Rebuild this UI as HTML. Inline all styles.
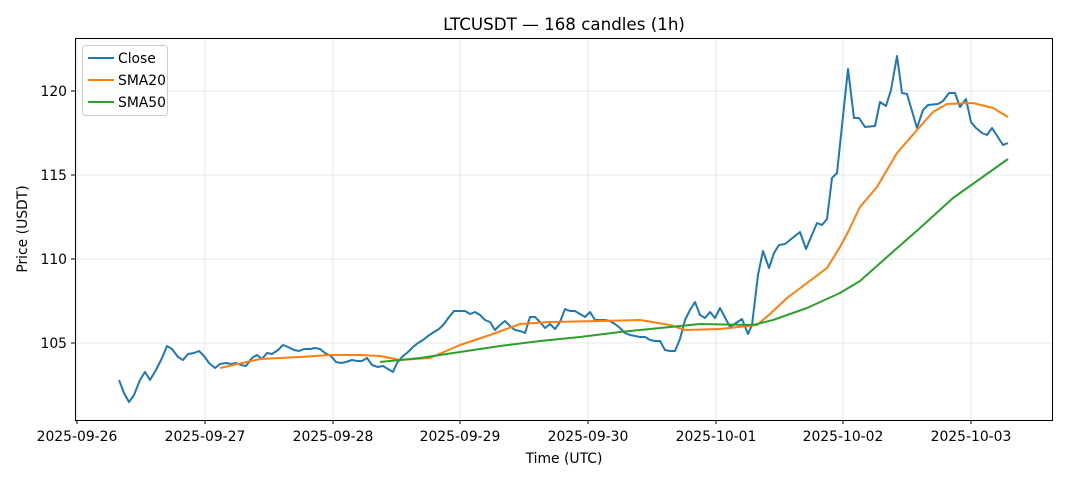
<!DOCTYPE html>
<html><head><meta charset="utf-8"><style>body{margin:0;background:#fff}svg{display:block;font-family:"DejaVu Sans","Liberation Sans",sans-serif}</style></head><body>
<svg width="1068" height="481" viewBox="0 0 1068 481" xmlns="http://www.w3.org/2000/svg">
<rect width="1068" height="481" fill="#fff"/>
<g stroke="#b0c4de" stroke-opacity="0.35" stroke-width="1">
<line x1="77" y1="38" x2="77" y2="420"/><line x1="205" y1="38" x2="205" y2="420"/><line x1="333" y1="38" x2="333" y2="420"/><line x1="460" y1="38" x2="460" y2="420"/><line x1="588" y1="38" x2="588" y2="420"/><line x1="716" y1="38" x2="716" y2="420"/><line x1="843" y1="38" x2="843" y2="420"/><line x1="971" y1="38" x2="971" y2="420"/>
<line x1="75" y1="343" x2="1052" y2="343"/><line x1="75" y1="259" x2="1052" y2="259"/><line x1="75" y1="175" x2="1052" y2="175"/><line x1="75" y1="91" x2="1052" y2="91"/>
</g>
<g fill="none" stroke-width="2" stroke-linejoin="round">
<polyline stroke="#1f77b4" points="119,380 124,393 129,402 134,395 140,380 145,372 150,380 156,370 162,358 167,346 172,349 178,357 183,360 188,354 194,353 199,351 204,356 209,363 215,368 220,364 226,363 231,364 236,363 241,365 246,366 252,358 257,355 262,359 267,353 272,354 278,350 283,345 288,347 294,350 299,351 304,349 310,349 315,348 320,349 325,353 331,356 336,362 341,363 346,362 352,360 357,361 362,361 367,358 372,365 378,367 383,366 388,369 393,372 397,363 402,357 408,352 413,347 418,343 423,340 428,336 434,332 439,329 444,324 449,317 454,311 460,311 465,311 470,314 475,312 480,315 485,320 490,322 495,330 500,325 505,321 510,326 515,330 520,331 525,333 530,317 535,317 540,322 545,328 550,324 555,329 560,322 565,309 570,311 575,311 580,314 585,317 590,312 595,320 600,320 605,320 610,321 615,324 620,328 625,333 630,335 635,336 640,337 645,337 650,340 655,341 660,341 665,350 670,351 675,351 680,339 685,320 690,310 695,302 700,315 705,318 710,312 715,318 720,308 730,327 742,319 748,334 752,325 758,275 763,251 769,268 774,253 779,245 785,244 790,240 800,232 806,249 817,223 822,225 827,219 832,178 837,173 848,69 854,118 859,118 865,127 875,126 880,102 886,106 891,90 897,56 902,93 907,94 917,128 923,110 928,105 938,104 943,101 949,93 955,93 960,107 966,99 971,122 976,128 982,133 987,135 992,128 1003,145 1008,143"/>
<polyline stroke="#ff7f0e" points="220,368 260,359 300,357 330,355 360,355 380,356 400,360 430,358 460,345 490,335 520,324 550,322 600,321 640,320 670,325 685,330 720,329 757,325 770,314 787,298 807,283 827,268 840,247 848,232 860,207 877,187 897,153 917,130 933,112 947,104 973,103 993,108 1008,117"/>
<polyline stroke="#2ca02c" points="380,362 420,358 460,352 500,346 540,341 580,337 620,332 660,328 700,324 753,325 773,320 807,308 840,293 860,281 887,257 920,228 953,198 1008,159"/>
</g>
<rect x="75.5" y="38.5" width="977" height="382" fill="none" stroke="#000" stroke-width="1"/>
<g stroke="#000"><line x1="77" y1="420" x2="77" y2="424"/><line x1="205" y1="420" x2="205" y2="424"/><line x1="333" y1="420" x2="333" y2="424"/><line x1="460" y1="420" x2="460" y2="424"/><line x1="588" y1="420" x2="588" y2="424"/><line x1="716" y1="420" x2="716" y2="424"/><line x1="843" y1="420" x2="843" y2="424"/><line x1="971" y1="420" x2="971" y2="424"/>
<line x1="71" y1="343" x2="75" y2="343"/><line x1="71" y1="259" x2="75" y2="259"/><line x1="71" y1="175" x2="75" y2="175"/><line x1="71" y1="91" x2="75" y2="91"/></g>
<g font-size="13.9" fill="#000" text-anchor="middle">
<text x="77" y="441">2025-09-26</text><text x="205" y="441">2025-09-27</text><text x="333" y="441">2025-09-28</text><text x="460" y="441">2025-09-29</text><text x="588" y="441">2025-09-30</text><text x="716" y="441">2025-10-01</text><text x="843" y="441">2025-10-02</text><text x="971" y="441">2025-10-03</text>
<text x="564" y="463">Time (UTC)</text>
<text x="564" y="30" font-size="16.7">LTCUSDT — 168 candles (1h)</text>
<text transform="translate(27,229) rotate(-90)">Price (USDT)</text>
</g>
<g font-size="13.9" text-anchor="end"><text x="67" y="348">105</text><text x="67" y="264">110</text><text x="67" y="180">115</text><text x="67" y="96">120</text></g>
<rect x="82.5" y="45.5" width="85" height="70" rx="3" fill="#fff" fill-opacity="0.8" stroke="#ccc"/>
<g stroke-width="2"><line x1="88" y1="58" x2="114" y2="58" stroke="#1f77b4"/><line x1="88" y1="80" x2="114" y2="80" stroke="#ff7f0e"/><line x1="88" y1="102" x2="114" y2="102" stroke="#2ca02c"/></g>
<g font-size="13.9"><text x="118" y="63">Close</text><text x="118" y="85">SMA20</text><text x="118" y="107">SMA50</text></g>
</svg>
</body></html>
